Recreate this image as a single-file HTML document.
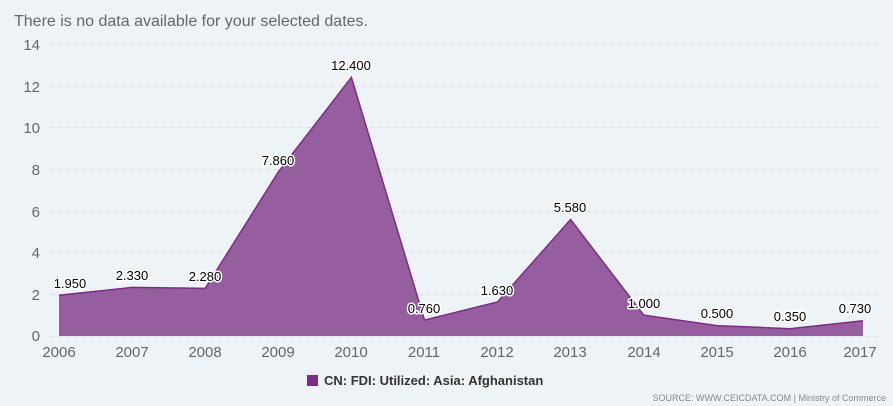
<!DOCTYPE html>
<html><head><meta charset="utf-8"><style>
html,body{margin:0;padding:0;background:#eef3f7;}
svg{display:block;font-family:"Liberation Sans","DejaVu Sans",sans-serif;}
.lbl{font-size:13px;fill:#000;stroke:#fff;stroke-width:3px;paint-order:stroke;stroke-linejoin:round;text-anchor:middle;}
.ax{font-size:15px;fill:#666;}
</style></head><body>
<svg width="893" height="406" viewBox="0 0 893 406">
<rect width="893" height="406" fill="#eef3f7"/>
<text x="14" y="26" font-size="16" fill="#666">There is no data available for your selected dates.</text>
<g stroke="#d9dde2" stroke-dasharray="5,3" stroke-width="1">
<line x1="50" x2="880" y1="44.5" y2="44.5"/>
<line x1="50" x2="880" y1="86.5" y2="86.5"/>
<line x1="50" x2="880" y1="127.5" y2="127.5"/>
<line x1="50" x2="880" y1="169.5" y2="169.5"/>
<line x1="50" x2="880" y1="211.5" y2="211.5"/>
<line x1="50" x2="880" y1="252.5" y2="252.5"/>
<line x1="50" x2="880" y1="294.5" y2="294.5"/>
<line x1="50" x2="880" y1="336.5" y2="336.5"/>
</g>
<g class="ax" text-anchor="end">
<text x="40" y="50">14</text><text x="40" y="92">12</text><text x="40" y="133">10</text>
<text x="40" y="175">8</text><text x="40" y="217">6</text><text x="40" y="258">4</text>
<text x="40" y="300">2</text><text x="40" y="341">0</text>
</g>
<polygon fill="#965e9e" points="59,336 59,295.3 132.1,287.4 205.2,288.4 278.3,172.1 351.4,77.4 424.5,320.1 497.5,302 570.6,219.6 643.7,315.1 716.8,325.6 789.9,328.7 863,320.8 863,336"/>
<polyline fill="none" stroke="#7a2d84" stroke-width="1.5" points="59,295.3 132.1,287.4 205.2,288.4 278.3,172.1 351.4,77.4 424.5,320.1 497.5,302 570.6,219.6 643.7,315.1 716.8,325.6 789.9,328.7 863,320.8"/>
<g class="lbl">
<text x="70" y="288">1.950</text><text x="132" y="280">2.330</text><text x="205" y="281">2.280</text>
<text x="278" y="165">7.860</text><text x="351" y="70">12.400</text><text x="424" y="313">0.760</text>
<text x="497" y="295">1.630</text><text x="570" y="212">5.580</text><text x="644" y="308">1.000</text>
<text x="717" y="318">0.500</text><text x="790" y="321">0.350</text><text x="855" y="313">0.730</text>
</g>
<g class="ax" text-anchor="middle" font-size="16">
<text x="59" y="357">2006</text><text x="132" y="357">2007</text><text x="205" y="357">2008</text>
<text x="278" y="357">2009</text><text x="351" y="357">2010</text><text x="424" y="357">2011</text>
<text x="497" y="357">2012</text><text x="570" y="357">2013</text><text x="644" y="357">2014</text>
<text x="717" y="357">2015</text><text x="790" y="357">2016</text><text x="860" y="357">2017</text>
</g>
<rect x="307" y="375" width="11" height="11" fill="#7a2d84"/>
<text x="324" y="385" font-size="13" font-weight="bold" fill="#333">CN: FDI: Utilized: Asia: Afghanistan</text>
<text x="886" y="401" font-size="9" fill="#888" text-anchor="end">SOURCE: WWW.CEICDATA.COM | Ministry of Commerce</text>
</svg>
</body></html>
